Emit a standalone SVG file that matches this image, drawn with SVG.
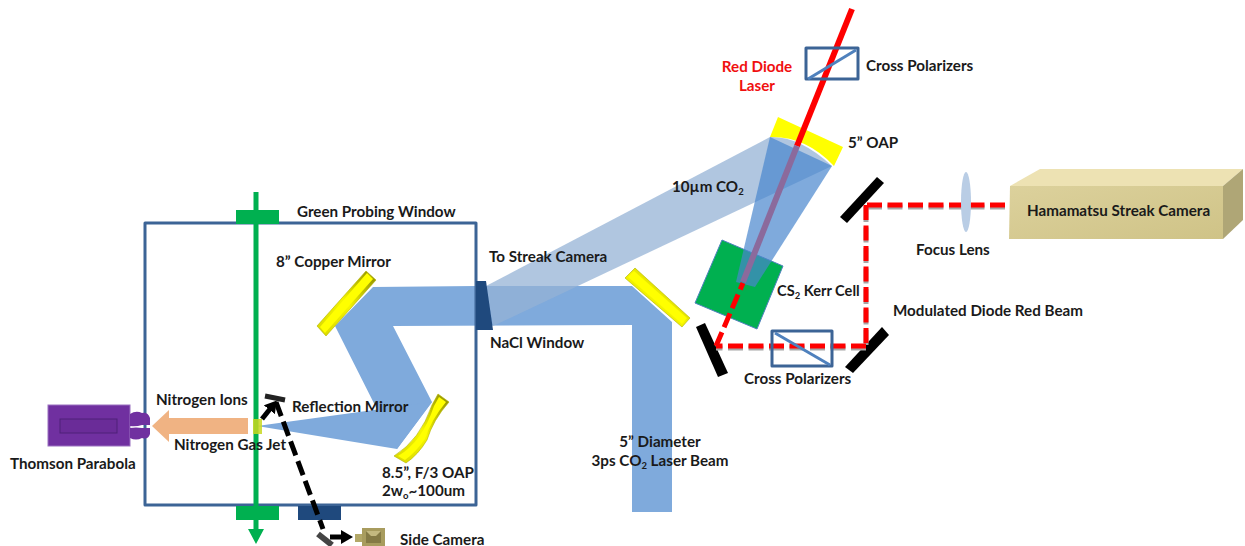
<svg xmlns="http://www.w3.org/2000/svg" width="1245" height="546" viewBox="0 0 1245 546">
<style>
text{font-family:Lato,"Open Sans","Liberation Sans",sans-serif;font-weight:700;font-size:15.2px;fill:#1a1a1a}
.mid{text-anchor:middle}
.red{fill:#f01010}
.beam{fill:#7faadc}
.blk{fill:#000}
.yl{stroke:#b0b000;stroke-width:.6}
.hi{fill:#ffff00}
.frame{fill:none;stroke:#3c6496;stroke-width:3;stroke-linejoin:round}
.diag{stroke:#4f81bd;stroke-width:3;fill:none}
.rd{fill:none;stroke:#fe0000;stroke-width:5;stroke-dasharray:15 5.5}
.rs{fill:none;stroke:#a6a6a6;stroke-width:5;stroke-dasharray:15 5.5}
.bd{fill:none;stroke:#000;stroke-width:5;stroke-dasharray:15 6}
</style>
<defs>
<marker id="ag" markerUnits="userSpaceOnUse" markerWidth="16" markerHeight="16" refX="1" refY="8" orient="auto"><path d="M0 0L15 8L0 16Z" fill="#00b050"/></marker>
<marker id="ab" markerUnits="userSpaceOnUse" markerWidth="13" markerHeight="14" refX="1" refY="7" orient="auto"><path d="M0 0L12 7L0 14Z" fill="#000"/></marker>
<linearGradient id="ym" x1="0" y1="1" x2="1" y2="0"><stop offset="0" stop-color="#d8d800"/><stop offset=".5" stop-color="#f4f400"/><stop offset="1" stop-color="#8a8a00"/></linearGradient>
<linearGradient id="cam" x1="0" y1="0" x2="1" y2="1"><stop offset="0" stop-color="#dcd19c"/><stop offset="1" stop-color="#cfc387"/></linearGradient>
</defs>

<g id="co2-beam">
<path class="beam" d="M373 287L476 286L632 286L672 322L672 512L632 512L632 325L393 326L432 402L397 449L335 326Z"/>
<path class="beam" d="M432 402L397 449L257 426Z"/>
</g>
<g id="chamber"><rect class="frame" x="145" y="223" width="331" height="282"/></g>
<g id="green-window-top"><rect x="236" y="210" width="43" height="14" fill="#00b050"/></g>
<g id="green-window-bottom"><rect x="236" y="506" width="43" height="14" fill="#00b050"/></g>
<g id="blue-window-bottom"><rect x="298" y="506" width="43" height="14" fill="#1f497d"/></g>

<g id="kerr-cell"><path d="M722 240L783 266L757 329L695 303Z" fill="#00b050" stroke="#4f81bd"/></g>
<g id="co2-focus">
<path d="M486 286L770 137Q800 136 832 166L493 326Z" fill="rgb(148,178,213)" fill-opacity=".74"/>
<path d="M770 137L832 166L755 287L736 282Z" fill="rgb(72,134,205)" fill-opacity=".7"/>
</g>
<g id="nacl-window"><path d="M476 281L486 281L493 330L476 330Z" fill="#1f497d"/></g>

<g id="copper-mirror"><path class="yl" style="fill:url(#ym)" d="M366 271L376 280L326 336L317 326Z"/><path class="hi" d="M367 273L373 279L325 333L320 327Z"/></g>
<g id="oap-85"><path class="yl" style="fill:url(#ym)" d="M438 394L449 402Q433 420 427 440Q418 455 406 463L394 456Q420 440 432 405Z"/><path class="hi" d="M439 397L446 402Q431 420 425 439Q416 452 405 460L398 456Q422 442 434 406Z"/></g>
<g id="turn-mirror"><path class="yl" style="fill:url(#ym)" d="M635 268L690 318L682 327L625 278Z"/><path class="hi" d="M634 271L687 318L682 324L628 277Z"/></g>
<g id="oap-5"><path d="M778 117L843 147L834 166Q806 136 770 137Z" fill="#ffff00"/></g>

<g id="mirror-lower-left"><path class="blk" d="M696 327L705 323L728 373L718 377Z"/></g>
<g id="mirror-lower-right"><path class="blk" d="M845 367L882 327L889 335L853 373Z"/></g>
<g id="mirror-upper"><path class="blk" d="M840 217L877 177L884 183L847 223Z"/></g>

<g id="connectors">
<path d="M256 192V530" stroke="#00b050" stroke-width="5" marker-end="url(#ag)" fill="none"/>
<path class="rs" d="M1005 207H866"/>
<path class="rs" d="M866 207V347"/>
<path class="rs" d="M866 348H716"/>
<path class="rd" d="M1005 205H866"/>
<path class="rd" d="M866 205V346"/>
<path class="rd" d="M866 346H716"/>
<path class="rd" d="M716 346L743 283"/>
<path d="M852 9L797 146" stroke="#fe0000" stroke-width="6" fill="none"/>
<path d="M797 146L743 282" stroke="#8b6a9c" stroke-width="6" fill="none"/>
<path d="M262 419L270 409" stroke="#000" stroke-width="5" fill="none" marker-end="url(#ab)"/>
<path class="bd" d="M276 402L323 529"/>
<path d="M330 537H342" stroke="#000" stroke-width="5" fill="none" marker-end="url(#ab)"/>
</g>

<g id="reflection-mirror"><path d="M265 396L285 400" stroke="#222" stroke-width="5"/></g>
<g id="side-mirror"><path d="M318 534L332 545" stroke="#444" stroke-width="6"/></g>
<g id="side-camera">
<rect x="355" y="534" width="8" height="8" fill="#b3a868"/>
<rect x="362" y="528" width="23" height="18" fill="#a89c5e"/>
<path d="M366 531H381V543H366Z" fill="#857a45"/>
<path d="M366 531H381L376 536H371Z" fill="#c4b980"/>
</g>

<g id="nitrogen-ions"><path d="M248 418V434H169V442L152 426L169 410V418Z" fill="#f0b383"/></g>
<g id="gas-jet"><rect x="253" y="419" width="9" height="15" fill="#c8d820" fill-opacity=".85"/></g>

<g id="thomson-parabola">
<rect x="48" y="405" width="82" height="41" fill="#7030a0" stroke="#9a70c0"/>
<rect x="60" y="419" width="57" height="14" fill="#6a2c98" stroke="#4e2078"/>
<path d="M130 414Q136 410 142 413Q148 412 150 418V425H142Q136 427 130 426Z" fill="#7030a0"/>
<path d="M130 428Q136 427 142 428H150V434Q148 440 142 438Q136 441 130 438Z" fill="#7030a0"/>
</g>

<g id="polarizer-lower"><rect class="frame" x="772" y="331" width="60" height="35"/><path class="diag" d="M775 333L830 365"/></g>
<g id="polarizer-upper"><rect class="frame" x="806" y="48" width="52" height="31"/><path class="diag" d="M808 79L856 50"/></g>
<g id="focus-lens"><ellipse cx="966" cy="202" rx="5" ry="30" fill="#b9cde5"/></g>
<g id="streak-camera">
<path d="M1010 186L1040 169H1243L1223 186Z" fill="#ede2b3"/>
<path d="M1223 186L1243 169V220L1223 239Z" fill="#afa676"/>
<path d="M1010 186H1223V239H1009Z" fill="url(#cam)"/>
</g>

<g id="labels">
<text x="297" y="217">Green Probing Window</text>
<text x="276" y="267">8” Copper Mirror</text>
<text x="489" y="262">To Streak Camera</text>
<text x="490" y="348">NaCl Window</text>
<text x="156" y="405">Nitrogen Ions</text>
<text x="292" y="412">Reflection Mirror</text>
<text x="174" y="450">Nitrogen Gas Jet</text>
<text x="10" y="469">Thomson Parabola</text>
<text x="382" y="478">8.5”, F/3 OAP</text>
<text x="382" y="496">2w<tspan font-size="9.500" dy="3">o</tspan><tspan dy="-3">~100um</tspan></text>
<text x="400" y="545">Side Camera</text>
<text class="mid" x="660" y="447">5” Diameter</text>
<text class="mid" x="660" y="466">3ps CO<tspan font-size="9.500" dy="3">2</tspan><tspan dy="-3"> Laser Beam</tspan></text>
<text x="672" y="192">10µm CO<tspan font-size="9.500" dy="3">2</tspan></text>
<text x="777" y="296" font-size="14.500" style="font-size:14.6px">CS<tspan font-size="9.500" dy="3">2</tspan><tspan dy="-3"> Kerr Cell</tspan></text>
<text x="744" y="384">Cross Polarizers</text>
<text x="866" y="71">Cross Polarizers</text>
<text x="893" y="316">Modulated Diode Red Beam</text>
<text x="916" y="255">Focus Lens</text>
<text class="mid red" x="757" y="72">Red Diode</text>
<text class="mid red" x="757" y="91">Laser</text>
<text x="848" y="148">5” OAP</text>
<text x="1027" y="216">Hamamatsu Streak Camera</text>
</g>
</svg>
